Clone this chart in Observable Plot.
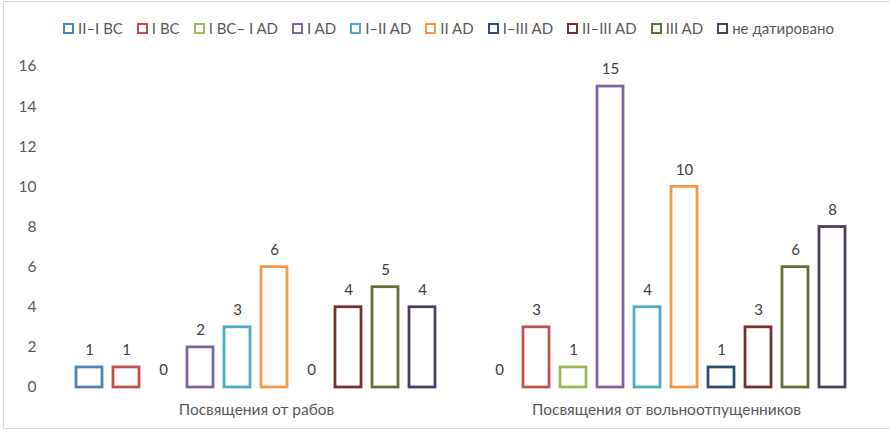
<!DOCTYPE html>
<html>
<head>
<meta charset="utf-8">
<script src="https://cdn.jsdelivr.net/npm/d3@7"></script>
<script src="https://cdn.jsdelivr.net/npm/@observablehq/plot@0.6"></script>
<style>
  body { margin: 0; background: #fff; font-family: Lato, "Open Sans", sans-serif; overflow: hidden; }
  #frame { position: absolute; left: 3px; top: 1px; width: 900px; height: 428px; border: 1px solid #d9d9d9; box-sizing: border-box; }
  #legend { position: absolute; left: 63px; top: 19px; display: flex; gap: 14px; align-items: center; font-size: 15px; color: #595959; white-space: nowrap; }
  .item { display: flex; align-items: center; }
  .sw { width: 11px; height: 11px; box-sizing: border-box; border: 2.5px solid; background: #fff; margin-right: 4px; }
  #chart { position: absolute; left: 0; top: 48px; }
</style>
</head>
<body>
<div id="frame"></div>
<div id="legend"></div>
<div id="chart"></div>
<script>
const groups = ["Посвящения от рабов", "Посвящения от вольноотпущенников"];
const periods = ["II–I BC", "I BC", "I BC– I AD", "I AD", "I–II AD", "II AD", "I–III AD", "II–III AD", "III AD", "не датировано"];
const slaves = [1, 1, 0, 2, 3, 6, 0, 4, 5, 4];
const freedmen = [0, 3, 1, 15, 4, 10, 1, 3, 6, 8];
const colors = ["#4f81bd", "#c0504d", "#9bbb59", "#8064a2", "#4bacc6", "#f79646", "#2f4d71", "#73302e", "#5d7035", "#4d3c61"];
const yTicks = [0, 2, 4, 6, 8, 10, 12, 14, 16];

const series = [slaves, freedmen];
const data = groups.flatMap((g, gi) => periods.map((p, i) => ({group: g, period: p, value: series[gi][i]})));

// legend
const legend = document.getElementById("legend");
periods.forEach((p, i) => {
  const it = document.createElement("div");
  it.className = "item";
  const sw = document.createElement("span");
  sw.className = "sw";
  sw.style.borderColor = colors[i];
  it.appendChild(sw);
  const t = document.createElement("span");
  t.textContent = p;
  it.appendChild(t);
  legend.appendChild(it);
});

const chart = Plot.plot({
  width: 890,
  height: 384,
  marginLeft: 50,
  marginRight: 19,
  marginTop: 18,
  marginBottom: 45,
  style: {fontFamily: "Lato, 'Open Sans', sans-serif", fontSize: "15.5px", color: "#595959", background: "transparent"},
  fx: {domain: groups, padding: 0, label: null, axis: "bottom", tickSize: 0, tickPadding: 16},
  x: {domain: periods, axis: null, paddingInner: 0.29, paddingOuter: 0.6},
  y: {domain: [0, 16], ticks: yTicks, tickSize: 0, tickPadding: 15, label: null, tickFormat: d => d},
  color: {domain: periods, range: colors},
  marks: [
    Plot.barY(data.filter(d => d.value > 0), {fx: "group", x: "period", y: "value", stroke: "period", fill: "white", strokeWidth: 2.75}),
    Plot.text(data, {fx: "group", x: "period", y: "value", text: d => String(d.value), dy: -17, fill: "#404040", fontSize: 15})
  ]
});
document.getElementById("chart").appendChild(chart);
</script>
</body>
</html>
